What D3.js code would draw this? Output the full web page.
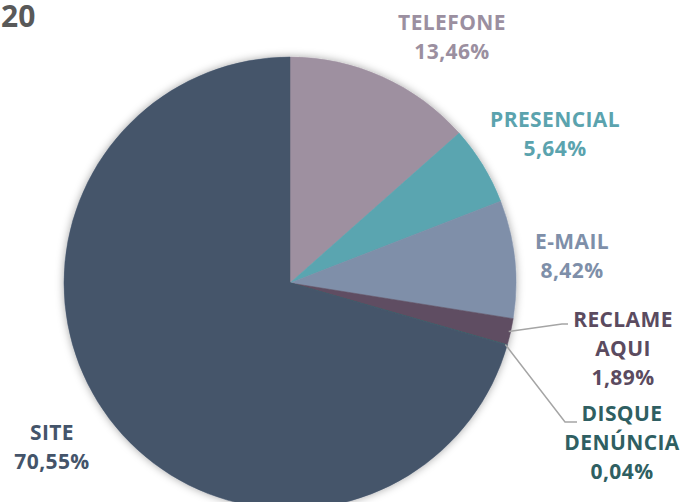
<!DOCTYPE html>
<html>
<head>
<meta charset="utf-8">
<script src="https://cdn.jsdelivr.net/npm/d3@7/dist/d3.min.js"></script>
<style>
html,body{margin:0;padding:0;background:#fff;overflow:hidden;}
svg{display:block;}
text{font-family:"Open Sans","Lato",sans-serif;font-weight:bold;}
</style>
</head>
<body>
<svg id="chart" width="685" height="502"></svg>
<script>
const categories = ["TELEFONE", "PRESENCIAL", "E-MAIL", "RECLAME AQUI", "DISQUE DENÚNCIA", "SITE"];
const values = [13.46, 5.64, 8.42, 1.89, 0.04, 70.55];
const labelLines = [["TELEFONE"], ["PRESENCIAL"], ["E-MAIL"], ["RECLAME", "AQUI"], ["DISQUE", "DENÚNCIA"], ["SITE"]];
const valueLabels = ["13,46%", "5,64%", "8,42%", "1,89%", "0,04%", "70,55%"];
const colors = ["#9e90a0", "#5aa5b0", "#7f8fa9", "#5e4e62", "#2f6064", "#44546a"];
const labelColors = ["#9b8fa0", "#5ba3ae", "#7e8fa9", "#5b4b5f", "#2f5f62", "#44546a"];
const titleText = "20";

const svg = d3.select("#chart");
const cx = 290, cy = 283, R = 226;

const defs = svg.append("defs");
const f = defs.append("filter").attr("id","shadow").attr("x","-20%").attr("y","-20%").attr("width","140%").attr("height","140%");
f.append("feDropShadow").attr("dx",0).attr("dy",0).attr("stdDeviation",4).attr("flood-color","#000").attr("flood-opacity",0.35);

svg.append("text").attr("x",1).attr("y",27).attr("text-anchor","start")
  .attr("fill","#595959").style("font-size","30px").text(titleText);

const pie = d3.pie().sort(null).value(d => d);
const arcs = pie(values);
const arc = d3.arc().innerRadius(0).outerRadius(R);

const g = svg.append("g").attr("transform",`translate(${cx},${cy})`);
const pg = g.append("g").attr("filter","url(#shadow)");
pg.selectAll("path").data(arcs).enter().append("path")
  .attr("d", arc).attr("fill",(d,i)=>colors[i])
  .attr("stroke",(d,i)=>colors[i]).attr("stroke-width",0.5);

// label anchor positions (center x, first baseline y)
const labelPos = [[452,30],[555,127],[572,249],[623,327],[622,421],[52,440]];
const lh = 29;

// leader lines for small slices
const leader = [null,null,null,[[568,324],[562,324]],[[577,422],[565,422]],null];
arcs.forEach((d,i)=>{
  if(!leader[i]) return;
  const a = (d.startAngle + d.endAngle)/2;
  const px = cx + (R-2)*Math.sin(a), py = cy - (R-2)*Math.cos(a);
  const pts = [leader[i][0], leader[i][1], [px,py]];
  svg.append("path").attr("d", d3.line()(pts)).attr("fill","none")
    .attr("stroke","#a5a5a5").attr("stroke-width",1.5);
});

labelPos.forEach((p,i)=>{
  const t = svg.append("text").attr("text-anchor","middle").attr("fill",labelColors[i])
    .style("font-size","21px").style("letter-spacing","0.4px");
  const lines = labelLines[i].concat([valueLabels[i]]);
  lines.forEach((s,k)=>{
    t.append("tspan").attr("x",p[0]).attr("y",p[1]+k*lh).text(s);
  });
});
</script>
</body>
</html>
